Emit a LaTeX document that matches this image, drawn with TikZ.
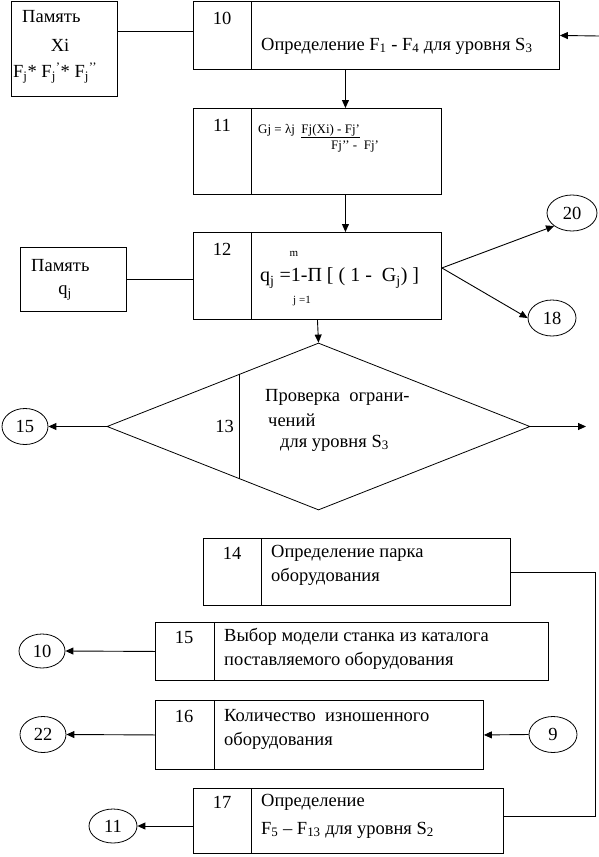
\documentclass[tikz,border=0pt]{standalone}
\usepackage{fontspec}
\setmainfont{Liberation Serif}
\usetikzlibrary{arrows.meta,shapes.geometric,calc}
\begin{document}
\begin{tikzpicture}[x=1pt,y=-1pt,
  every node/.style={font=\fontsize{18.5}{21}\selectfont},
  box/.style={draw, line width=0.9pt, rectangle, anchor=north west, inner sep=0pt},
  circ/.style={draw, line width=0.8pt, ellipse, minimum width=48pt, minimum height=36pt, inner sep=0pt},
  ln/.style={line width=0.9pt},
  arr/.style={line width=0.9pt, -{Triangle[length=8pt,width=7pt]}},
  txt/.style={anchor=west, inner sep=0pt},
  num/.style={inner sep=0pt},
  small/.style={inner sep=0pt, font=\fontsize{11}{12}\selectfont},
  form/.style={anchor=west, inner sep=0pt, font=\fontsize{13}{15}\selectfont},
]
\useasboundingbox (0,0) rectangle (599,857);

% memory box 1
\node[box, minimum width=106pt, minimum height=95pt] (m1) at (11,1) {};
\node[txt] (m1a) at (22,17) {Память};
\node[num] (m1b) at (60,45) {Xi};
\node[txt] (m1c) at (13,73) {F\textsubscript{j}* F\textsubscript{j}\textsuperscript{’}* F\textsubscript{j}\textsuperscript{’’}};

% box 10
\node[box, minimum width=366pt, minimum height=68pt] (b10) at (193,1) {};
\draw[ln] ([xshift=58pt]b10.north west) -- ([xshift=58pt]b10.south west);
\node[num] (n10) at (222,18) {10};
\node[txt] (t10) at (261,46) {Определение F\textsubscript{1} - F\textsubscript{4} для уровня S\textsubscript{3}};
\coordinate (in10) at (599,36);

% box 11
\node[box, minimum width=248pt, minimum height=86pt] (b11) at (193,108) {};
\draw[ln] ([xshift=58pt]b11.north west) -- ([xshift=58pt]b11.south west);
\node[num] (n11) at (222,125) {11};
\node[form] (f11a) at (258,131) {Gj = λj\ \ \underline{Fj(Xi) - Fj’}};
\node[form] (f11b) at (331,147) {Fj’’\ -\ \ Fj’};

% memory box q
\node[box, minimum width=106pt, minimum height=64pt] (mq) at (20,247) {};
\node[txt] (mqa) at (31,266) {Память};
\node[num] (mqb) at (65,293) {q\textsubscript{j}};

% box 12
\node[box, minimum width=248pt, minimum height=87pt] (b12) at (193,232) {};
\draw[ln] ([xshift=58pt]b12.north west) -- ([xshift=58pt]b12.south west);
\node[num] (n12) at (222,249) {12};
\node[small] (f12m) at (294,254) {m};
\node[txt, font=\fontsize{20}{22}\selectfont] (f12) at (260,278) {q\textsubscript{j} =1-П [ ( 1 -\ \ G\textsubscript{j}) ]};
\node[small] (f12j) at (302,301) {j =1};

% circles 20, 18
\node[circ, minimum width=50pt] (c20) at (572,213) {20};
\node[circ] (c18) at (552,318) {18};

% diamond 13
\node[draw, line width=0.8pt, diamond, minimum width=423pt, minimum height=167pt, inner sep=0pt] (d13) at (318.5,426.5) {};
\draw[ln] ($(d13.west)!0.629!(d13.north)$) -- ($(d13.west)!0.629!(d13.south)$);
\node[num, anchor=east] (n13) at (234,426) {13};
\node[txt] (t13a) at (265,397) {Проверка\ \ ограни-};
\node[txt] (t13b) at (268,420) {чений};
\node[txt] (t13c) at (280,443) {для уровня S\textsubscript{3}};
\node[circ, minimum width=46pt] (c15) at (25,426.5) {15};
\coordinate (out13) at (586,426.5);

% box 14
\node[box, minimum width=307pt, minimum height=67pt] (b14) at (203,538) {};
\draw[ln] ([xshift=58pt]b14.north west) -- ([xshift=58pt]b14.south west);
\node[num] (n14) at (232,553) {14};
\node[txt] (t14a) at (271,553) {Определение парка};
\node[txt] (t14b) at (271,577) {оборудования};

% box 15
\node[box, minimum width=393pt, minimum height=58pt] (b15) at (155,622) {};
\draw[ln] ([xshift=59pt]b15.north west) -- ([xshift=59pt]b15.south west);
\node[num] (n15) at (184,637) {15};
\node[txt] (t15a) at (224,637) {Выбор модели станка из каталога};
\node[txt] (t15b) at (224,661) {поставляемого оборудования};
\node[circ, minimum width=46pt, minimum height=34pt] (c10) at (42,651) {10};

% box 16
\node[box, minimum width=328pt, minimum height=69pt] (b16) at (155,700) {};
\draw[ln] ([xshift=59pt]b16.north west) -- ([xshift=59pt]b16.south west);
\node[num] (n16) at (184,716) {16};
\node[txt] (t16a) at (224,716) {Количество\ \ изношенного};
\node[txt] (t16b) at (224,741) {оборудования};
\node[circ, minimum width=46pt] (c22) at (43,734.5) {22};
\node[circ, minimum width=48pt] (c9) at (553,734.5) {9};

% box 17
\node[box, minimum width=310pt, minimum height=65pt] (b17) at (193,788) {};
\draw[ln] ([xshift=58pt]b17.north west) -- ([xshift=58pt]b17.south west);
\node[num] (n17) at (222,802) {17};
\node[txt] (t17a) at (261,802) {Определение};
\node[txt] (t17b) at (261,830) {F\textsubscript{5} – F\textsubscript{13} для уровня S\textsubscript{2}};
\node[circ, minimum width=48pt, minimum height=34pt] (c11) at (113,826) {11};

% connectors
\draw[ln] ([yshift=4pt]b10.west) -- ([yshift=4pt]b10.west -| m1.east);
\draw[arr] (in10) -- (b10.east);
\draw[arr] ([xshift=-31pt]b10.south) -- ([xshift=-31pt]b10.south |- b11.north);
\draw[arr] ([xshift=28pt]b11.south) -- ([xshift=28pt]b11.south |- b12.north);
\draw[ln] (mq.east) -- (mq.east -| b12.west);
\draw[arr] ([yshift=8pt]b12.east) -- (c20.south west);
\draw[arr] ([yshift=8pt]b12.east) -- (c18.west);
\draw[arr] (b12.south) -- (d13.north);
\draw[arr] (d13.west) -- (c15.east);
\draw[arr] (d13.east) -- (out13);
\draw[ln] (b14.east) -| ([xshift=92pt,yshift=5pt]b17.east) -- ([yshift=5pt]b17.east);
\draw[arr] (b15.west) -- (c10.east);
\draw[arr] (b16.west) -- (c22.east);
\draw[arr] (c9.west) -- (b16.east);
\draw[arr] (c11.east -| b17.west) -- (c11.east);
\end{tikzpicture}
\end{document}
